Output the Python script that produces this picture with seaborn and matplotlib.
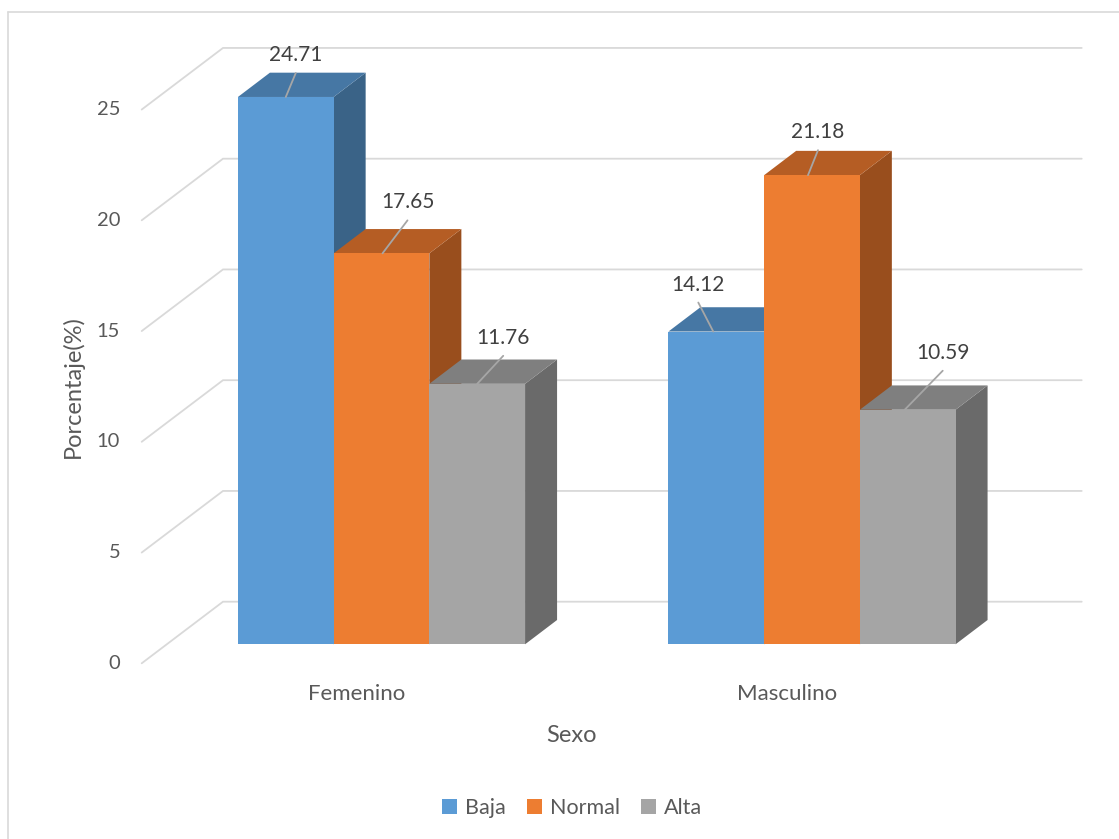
import matplotlib
matplotlib.use("Agg")
import matplotlib.pyplot as plt
from matplotlib.patches import Polygon, Patch
from matplotlib.lines import Line2D
import seaborn as sns
import pandas as pd

# ---- data -------------------------------------------------------------
sexo = ["Femenino", "Masculino"]
niveles = ["Baja", "Normal", "Alta"]
baja = [24.71, 14.12]
normal = [17.65, 21.18]
alta = [11.76, 10.59]
y_ticks = [0, 5, 10, 15, 20, 25]

df = pd.DataFrame({
    "Sexo": sexo * 3,
    "Nivel": ["Baja"] * 2 + ["Normal"] * 2 + ["Alta"] * 2,
    "Porcentaje": baja + normal + alta,
})

# ---- style ------------------------------------------------------------
sns.set_style("white")
plt.rcParams["font.family"] = ["Lato", "DejaVu Sans"]

front = {"Baja": "#5B9BD5", "Normal": "#ED7D31", "Alta": "#A5A5A5"}
top = {"Baja": "#4677A4", "Normal": "#B55D24", "Alta": "#7F7F7F"}
side = {"Baja": "#3A6387", "Normal": "#994E1D", "Alta": "#6A6A6A"}
grid_c = "#D9D9D9"
tick_c = "#595959"
label_c = "#404040"

W, H = 1119, 839
fig = plt.figure(figsize=(W / 100, H / 100), dpi=100)
ax = fig.add_axes([0, 0, 1, 1])

# screen geometry of the oblique projection (pixels)
X0_PX, PX_X = 381.5, 430.5      # first category centre, pixels per category
Y0_PX, PX_Y = 644.3, 22.15      # bar base (from top), pixels per percent
BAR_DEPTH = (32.0, 24.3)        # bar depth offset (right, up)
FRONT = (-24.8, -19.0)          # front plane relative to bar plane
BACK = (56.5, 42.6)             # back wall relative to bar plane
WALL_LEFT_PX = 141.7
WALL_RIGHT_PX = 1081.7


def ux(px):
    return px / PX_X


def uy(px):
    return px / PX_Y


def xdata(px):
    return (px - X0_PX) / PX_X


def ydata(px):
    return (Y0_PX - px) / PX_Y


sns.barplot(data=df, x="Sexo", y="Porcentaje", hue="Nivel", order=sexo,
            hue_order=niveles, palette=front, saturation=1, width=0.667,
            linewidth=0, legend=False, ax=ax)

ax.set_xlim(xdata(0), xdata(W))
ax.set_ylim(ydata(H), ydata(0))
ax.axis("off")

# back wall gridlines and left-wall diagonals
for v in y_ticks:
    xf, yf = xdata(WALL_LEFT_PX), v + uy(FRONT[1])
    xb, yb = xf + ux(BACK[0] - FRONT[0]), v + uy(BACK[1])
    ax.add_line(Line2D([xf, xb, xdata(WALL_RIGHT_PX)], [yf, yb, yb],
                       color=grid_c, lw=1.3, zorder=1, solid_joinstyle="miter"))
    ax.text(xf - ux(21.5), yf, f"{v}", ha="right", va="center",
            fontsize=14.5, color=tick_c)

# 3-D faces for every bar, drawn left to right
rev = {v.lower(): k for k, v in front.items()}
bars = sorted(ax.patches, key=lambda p: p.get_x())
dxb, dyb = ux(BAR_DEPTH[0]), uy(BAR_DEPTH[1])
for i, p in enumerate(bars):
    lvl = rev[matplotlib.colors.to_hex(p.get_facecolor()).lower()]
    x0, w, h = p.get_x(), p.get_width(), p.get_height()
    z = 2 + 3 * i
    ax.add_patch(Polygon([(x0 + w, 0), (x0 + w + dxb, dyb),
                          (x0 + w + dxb, h + dyb), (x0 + w, h)],
                         closed=True, fc=side[lvl], ec="none", zorder=z))
    ax.add_patch(Polygon([(x0, h), (x0 + w, h), (x0 + w + dxb, h + dyb),
                          (x0 + dxb, h + dyb)],
                         closed=True, fc=top[lvl], ec="none", zorder=z + 1))
    p.set_zorder(z + 2)

# value labels with leader lines (pixel offsets: base dx, tip dx, tip dy)
leaders = [(0, 10, 24), (1, 26, 33), (0, 26, 28),
           (-3, -18, 29), (-4, 6, 25), (-3, 35, 39)]
for p, (bx, tx, ty) in zip(bars, leaders):
    cx = p.get_x() + p.get_width() / 2
    h = p.get_height()
    x1, y1 = cx + ux(bx), h
    x2, y2 = cx + ux(tx), h + uy(ty)
    ax.add_line(Line2D([x1, x2], [y1, y2], color="#A6A6A6", lw=1.3,
                       zorder=40))
    ax.text(x2, y2 + uy(18), f"{h:.2f}", ha="center", va="center",
            fontsize=15, color=label_c, zorder=41)

# category labels on the front plane
for i, s in enumerate(sexo):
    ax.text(i + ux(FRONT[0]), uy(FRONT[1]) - uy(30.7), s, ha="center",
            va="center", fontsize=16, color=tick_c)

# axis titles
ax.text(xdata(571), ydata(735), "Sexo", ha="center", va="center",
        fontsize=17, color=tick_c)
ax.text(xdata(73), ydata(387), "Porcentaje(%)", ha="center",
        va="center", rotation=90, fontsize=17, color=tick_c)

# legend
handles = [Patch(fc=front[n], ec="none", label=n) for n in niveles]
fig.legend(handles=handles, loc="center", bbox_to_anchor=(572 / W, 1 - 808 / H),
           ncol=3, frameon=False, fontsize=15.5, handlelength=0.7,
           handleheight=0.7, handletextpad=0.35, columnspacing=1.0,
           labelcolor=tick_c)

# chart frame
fig.add_artist(Line2D([8 / W, 8 / W], [0, 1 - 12 / H], transform=fig.transFigure,
                      color=grid_c, lw=1.2))
fig.add_artist(Line2D([8 / W, 1], [1 - 12 / H, 1 - 12 / H],
                      transform=fig.transFigure, color=grid_c, lw=1.2))

fig.savefig("out.png", dpi=100, facecolor="white")
